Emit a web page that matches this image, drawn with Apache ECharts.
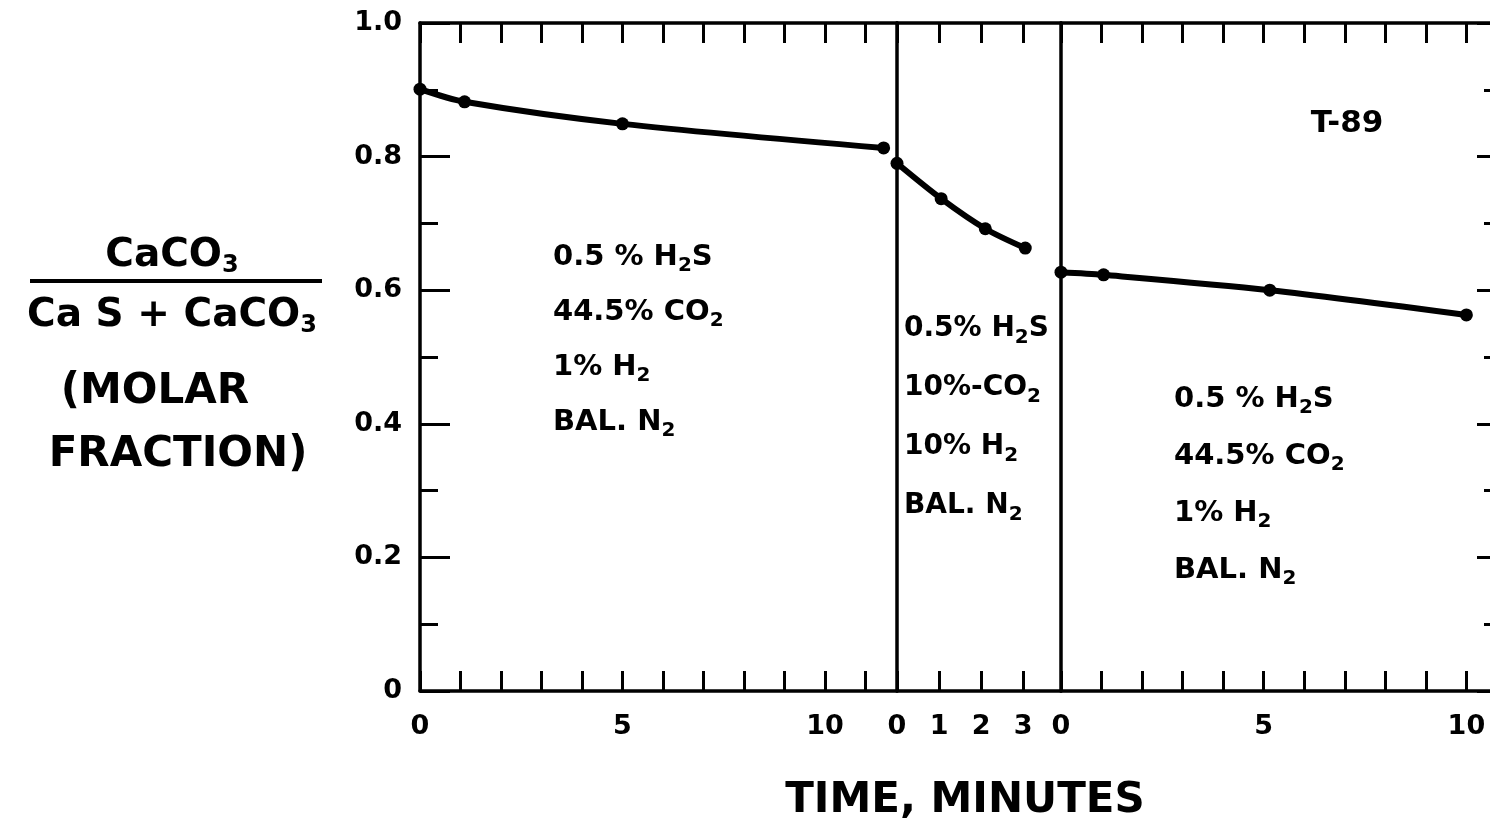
<!DOCTYPE html>
<html>
<head>
<meta charset="utf-8">
<script src="https://cdn.jsdelivr.net/npm/echarts@6/dist/echarts.min.js"></script>
<style>
  html, body { margin: 0; padding: 0; background: #fff; overflow: hidden; }
  #chart { width: 1490px; height: 831px; }
</style>
</head>
<body>
<div id="chart"></div>
<script>
// Period 1: 0.5% H2S, 44.5% CO2, 1% H2, balance N2
const seg1Time = [0, 1.1, 5.0, 11.45];
const seg1Frac = [0.901, 0.882, 0.849, 0.813];
// Period 2: 0.5% H2S, 10% CO2, 10% H2, balance N2
const seg2Time = [0, 1.05, 2.1, 3.05];
const seg2Frac = [0.790, 0.737, 0.692, 0.663];
// Period 3: back to 0.5% H2S, 44.5% CO2, 1% H2, balance N2
const seg3Time = [0, 1.05, 5.15, 10];
const seg3Frac = [0.627, 0.623, 0.600, 0.563];

// Length of each period on its own time axis (minutes)
const seg1Max = 11.78;
const seg2Max = 3.9;
const seg3Max = 11.1;

// Labelled minutes on each time axis
const seg1Labels = [0, 5, 10];
const seg2Labels = [0, 1, 2, 3];
const seg3Labels = [0, 5, 10];

// Gas compositions written inside each period
const gasA = ['0.5 % H{s|2}S', '44.5% CO{s|2}', '1% H{s|2}', 'BAL. N{s|2}'];
const gasB = ['0.5% H{s|2}S', '10%-CO{s|2}', '10% H{s|2}', 'BAL. N{s|2}'];
const gasC = ['0.5 % H{s|2}S', '44.5% CO{s|2}', '1% H{s|2}', 'BAL. N{s|2}'];

const FONT = 'DejaVu Sans';
const INK = '#000';

const chart = echarts.init(document.getElementById('chart'));

function pairs(t, v) { return t.map((x, i) => [x, v[i]]); }

function bottomAxis(idx, max, labels) {
  return {
    type: 'value', gridIndex: idx, position: 'bottom', min: 0, max: max, interval: 1,
    axisLine: { show: true, onZero: false, lineStyle: { color: INK, width: 3.5 } },
    axisTick: { show: true, inside: true, length: 20, lineStyle: { color: INK, width: 3 } },
    axisLabel: {
      show: true, margin: 22, color: INK, fontFamily: FONT, fontWeight: 'bold', fontSize: 27,
      showMinLabel: true, showMaxLabel: false,
      formatter: v => labels.indexOf(Math.round(v * 100) / 100) >= 0 ? String(v) : ''
    },
    splitLine: { show: false }
  };
}
function topAxis(idx, max) {
  return {
    type: 'value', gridIndex: idx, position: 'top', min: 0, max: max, interval: 1,
    axisLine: { show: true, onZero: false, lineStyle: { color: INK, width: 3.5 } },
    axisTick: { show: true, inside: true, length: 20, lineStyle: { color: INK, width: 3 } },
    axisLabel: { show: false },
    splitLine: { show: false }
  };
}

function plainY(idx, pos, withTicks, withLabels, tickLen, minorLen) {
  return {
    type: 'value', gridIndex: idx, position: pos, min: 0, max: 1, interval: 0.2,
    axisLine: { show: true, onZero: false, lineStyle: { color: INK, width: 3.5 } },
    axisTick: { show: withTicks, inside: true, length: tickLen, lineStyle: { color: INK, width: 3 } },
    minorTick: { show: withTicks, splitNumber: 2, length: minorLen, lineStyle: { color: INK, width: 3 } },
    axisLabel: {
      show: withLabels, margin: 18, color: INK, fontFamily: FONT, fontWeight: 'bold', fontSize: 27,
      formatter: v => v === 0 ? '0' : v.toFixed(1)
    },
    splitLine: { show: false }
  };
}

function lineSeries(xi, t, v) {
  return {
    type: 'line', xAxisIndex: xi, yAxisIndex: xi, data: pairs(t, v),
    smooth: 0.3, symbol: 'circle', symbolSize: 13, showSymbol: true,
    lineStyle: { color: INK, width: 6 },
    itemStyle: { color: INK },
    clip: false, animation: false
  };
}

const richStyles = {
  s: { fontSize: 20, fontFamily: FONT, fontWeight: 'bold', fill: INK, lineHeight: 16, verticalAlign: 'bottom' }
};

function gasBlock(lines, x, y0, step, size) {
  return lines.map((txt, i) => ({
    type: 'text', left: x, top: y0 + i * step,
    style: {
      text: txt, fill: INK, fontFamily: FONT, fontWeight: 'bold', fontSize: size,
      lineHeight: 38, verticalAlign: 'middle',
      rich: richStyles
    }
  }));
}

const titleSub = { s: { fontSize: 24, fontFamily: FONT, fontWeight: 'bold', fill: INK, lineHeight: 20, verticalAlign: 'bottom' } };

const graphics = []
  .concat(gasBlock(gasA, 553, 238, 55, 29))
  .concat(gasBlock(gasB, 904, 310, 59, 28))
  .concat(gasBlock(gasC, 1174, 380, 57, 29))
  .concat([
    { type: 'text', x: 1347, y: 124, style: { text: 'T-89', fill: INK, fontFamily: FONT, fontWeight: 'bold', fontSize: 31, align: 'center', verticalAlign: 'middle' } },
    // y-axis title: molar fraction CaCO3 / (CaS + CaCO3)
    { type: 'text', x: 172, y: 256, style: { text: 'CaCO{s|3}', fill: INK, fontFamily: FONT, fontWeight: 'bold', fontSize: 39, align: 'center', verticalAlign: 'middle', lineHeight: 44, rich: titleSub } },
    { type: 'line', shape: { x1: 30, y1: 281, x2: 322, y2: 281 }, style: { stroke: INK, lineWidth: 4 } },
    { type: 'text', x: 172, y: 316, style: { text: 'Ca S + CaCO{s|3}', fill: INK, fontFamily: FONT, fontWeight: 'bold', fontSize: 39, align: 'center', verticalAlign: 'middle', lineHeight: 44, rich: titleSub } },
    { type: 'text', x: 155, y: 392, style: { text: '(MOLAR', fill: INK, fontFamily: FONT, fontWeight: 'bold', fontSize: 42, align: 'center', verticalAlign: 'middle' } },
    { type: 'text', x: 178, y: 455, style: { text: 'FRACTION)', fill: INK, fontFamily: FONT, fontWeight: 'bold', fontSize: 42, align: 'center', verticalAlign: 'middle' } },
    // x-axis title
    { type: 'text', x: 965, y: 801, style: { text: 'TIME, MINUTES', fill: INK, fontFamily: FONT, fontWeight: 'bold', fontSize: 42, align: 'center', verticalAlign: 'middle' } }
  ]);

const gridBase = { top: 23, height: 668, containLabel: false, outerBoundsMode: 'none' };

chart.setOption({
  animation: false,
  backgroundColor: '#fff',
  grid: [
    Object.assign({ left: 420, width: 477 }, gridBase),
    Object.assign({ left: 897, width: 164 }, gridBase),
    Object.assign({ left: 1061, width: 450 }, gridBase)
  ],
  xAxis: [
    bottomAxis(0, seg1Max, seg1Labels),
    bottomAxis(1, seg2Max, seg2Labels),
    bottomAxis(2, seg3Max, seg3Labels),
    topAxis(0, seg1Max),
    topAxis(1, seg2Max),
    topAxis(2, seg3Max)
  ],
  yAxis: [
    plainY(0, 'left', true, true, 30, 18),
    plainY(1, 'left', false, false, 0, 0),
    plainY(2, 'left', false, false, 0, 0),
    plainY(2, 'right', true, false, 34, 27)
  ],
  series: [
    lineSeries(0, seg1Time, seg1Frac),
    lineSeries(1, seg2Time, seg2Frac),
    lineSeries(2, seg3Time, seg3Frac)
  ],
  graphic: graphics
});
</script>
</body>
</html>
